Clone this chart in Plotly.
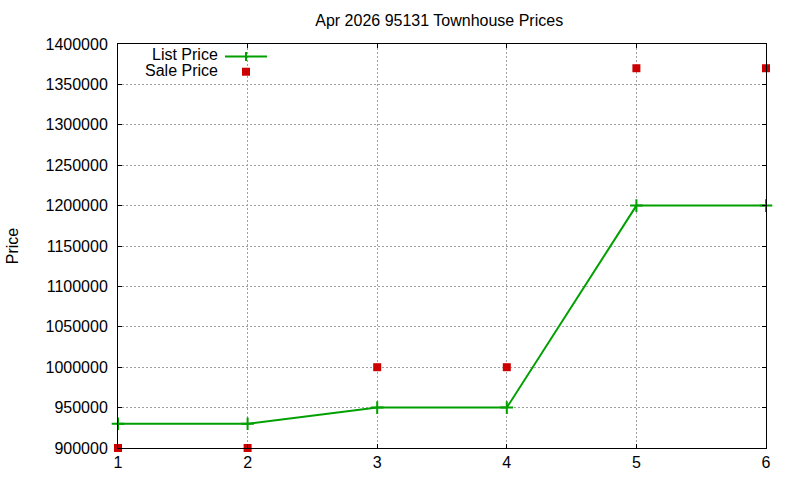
import plotly.graph_objects as go

months = [1, 2, 3, 4, 5, 6]
list_price = [930000, 930000, 950000, 950000, 1200000, 1200000]
sale_price = [900000, 900000, 1000000, 1000000, 1370000, 1370000]
y_ticks = [900000, 950000, 1000000, 1050000, 1100000, 1150000, 1200000,
           1250000, 1300000, 1350000, 1400000]
title_text = "Apr 2026 95131 Townhouse Prices"
series_names = ["List Price", "Sale Price"]

FONT = "Liberation Sans, Arial, sans-serif"
GREEN = "#00a000"
RED = "#cc0000"

fig = go.Figure()
fig.add_trace(go.Scatter(
    x=months, y=list_price, name=series_names[0], mode="lines+markers",
    line=dict(color=GREEN, width=2),
    marker=dict(symbol="cross-thin", size=9, line=dict(color=GREEN, width=2)),
    cliponaxis=False, showlegend=False,
))
fig.add_trace(go.Scatter(
    x=months, y=sale_price, name=series_names[1], mode="markers",
    marker=dict(symbol="square", size=8, color=RED),
    cliponaxis=False, showlegend=False,
))

# gnuplot-style key: text right-aligned, sample on the right
key_text_x = 0.1559
key_sample_x = 0.1975
key_rows_text = [0.9728, 0.9356]
key_rows_sample = [0.969, 0.9314]
for name, ty in zip(series_names, key_rows_text):
    fig.add_annotation(xref="paper", yref="paper", x=key_text_x, y=ty,
                       text=name, showarrow=False, xanchor="right",
                       yanchor="middle", borderpad=0,
                       font=dict(family=FONT, size=16, color="black"))
sy = key_rows_sample
# list price sample: line + cross
fig.add_shape(type="line", xref="paper", yref="paper", xsizemode="pixel",
              ysizemode="pixel", xanchor=key_sample_x, yanchor=sy[0],
              x0=-21, x1=21, y0=0, y1=0, line=dict(color=GREEN, width=2))
fig.add_shape(type="line", xref="paper", yref="paper", xsizemode="pixel",
              ysizemode="pixel", xanchor=key_sample_x, yanchor=sy[0],
              x0=0, x1=0, y0=-4.5, y1=4.5, line=dict(color=GREEN, width=2))
# sale price sample: square
fig.add_shape(type="rect", xref="paper", yref="paper", xsizemode="pixel",
              ysizemode="pixel", xanchor=key_sample_x, yanchor=sy[1],
              x0=-4, x1=4, y0=-4, y1=4, line=dict(width=0), fillcolor=RED)

fig.update_layout(
    width=800, height=480,
    margin=dict(l=118, r=34, t=44, b=32, autoexpand=False),
    paper_bgcolor="white", plot_bgcolor="white",
    font=dict(family=FONT, size=16, color="black"),
    title=dict(text=title_text, x=0.549, xanchor="center", y=0.9583, yanchor="middle",
               font=dict(family=FONT, size=16, color="black")),
    showlegend=False,
)
fig.update_xaxes(
    range=[1, 6], tickvals=months, ticks="inside", ticklen=4,
    tickcolor="black", showline=True, linecolor="black", linewidth=1,
    mirror="ticks", showgrid=True, gridcolor="#a0a0a0", griddash="2px,2px",
    gridwidth=1, zeroline=False, ticklabelstandoff=0, automargin=False,
)
fig.update_yaxes(
    range=[900000, 1400000], tickvals=y_ticks, tickformat="d", ticks="inside",
    ticklen=4, tickcolor="black", showline=True, linecolor="black", linewidth=1,
    mirror="ticks", showgrid=True, gridcolor="#a0a0a0", griddash="2px,2px",
    gridwidth=1, zeroline=False, ticklabelstandoff=6, automargin=False,
    title=dict(text="Price", standoff=22, font=dict(size=16)),
)

fig.write_html("out.html", config={"displayModeBar": False},
               post_script="document.body.style.margin='0';")
